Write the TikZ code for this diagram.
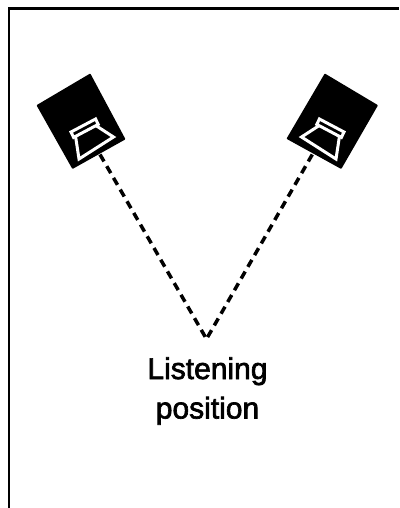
\documentclass[tikz,border=0pt]{standalone}
\usepackage{fontspec}
\setmainfont{Liberation Sans}
\newfontfamily\capfont[FakeBold=2.2]{Liberation Sans}
\tikzset{
  frameline/.style={line width=2.2pt,black},
  cabinet/.style={fill=black,draw=black,line width=1.5pt,line join=round},
  driver/.style={draw=white,line width=3pt,line join=miter,fill=black},
  soundline/.style={line width=3.5pt,black,dash pattern=on 8pt off 5.5pt},
  caption/.style={align=center,font=\capfont\fontsize{30}{39.5}\selectfont,inner sep=0pt}
}
\begin{document}
\begin{tikzpicture}[x=1pt,y=-1pt]
\useasboundingbox (0,0) rectangle (399,508);
\fill[white] (0,0) rectangle (399,508);
\draw[frameline] (9,508) -- (9,8.5) -- (399,8.5);
% left speaker
\draw[cabinet] (90,74.5) -- (37.5,105.5) -- (72.7,168) -- (124.5,139) -- cycle;
\draw[driver] (79,159) -- (113.5,137) -- (95,125) -- (75.5,136) -- cycle;
\draw[driver] (71,132) -- (95.6,119) -- (98.2,124.4) -- (73.6,137.4) -- cycle;
% right speaker
\draw[cabinet] (325,74.5) -- (377,105.5) -- (341,168) -- (287.5,138.5) -- cycle;
\draw[driver] (336,159) -- (301.5,137) -- (320,125) -- (339.5,136) -- cycle;
\draw[driver] (344,132) -- (319.4,119) -- (316.8,124.4) -- (341.4,137.4) -- cycle;
% listening position
\coordinate (leftOut) at (100,154.5);
\coordinate (rightOut) at (312.3,154.5);
\coordinate (listen) at (206.5,339);
\draw[soundline] (leftOut) -- (listen);
\draw[soundline] (rightOut) -- (listen);
\node[caption] (label) at (207.5,391) {Listening\\position};
\end{tikzpicture}
\end{document}
